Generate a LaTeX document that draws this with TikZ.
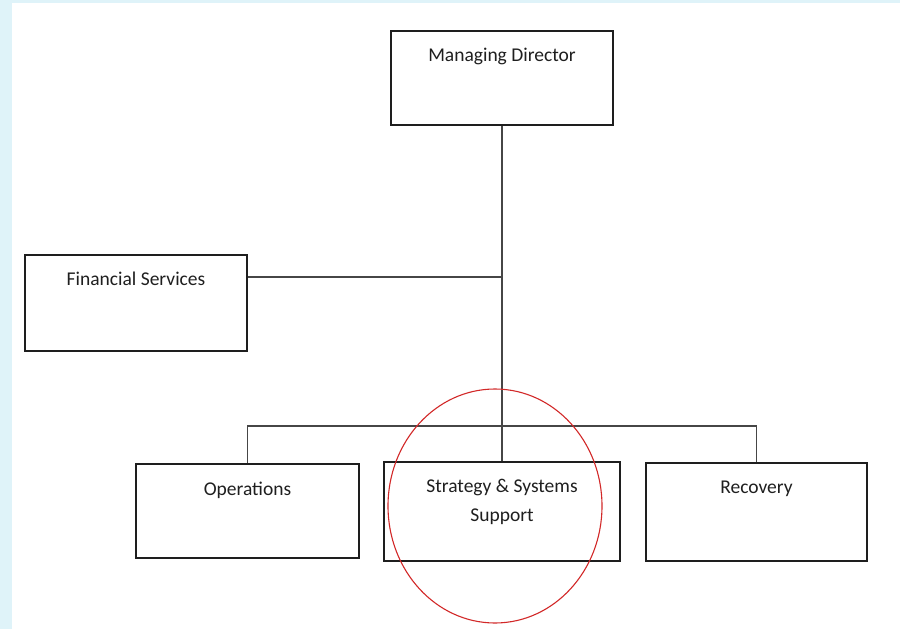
\documentclass[tikz,border=0pt]{standalone}
\usepackage{fontspec}
\setmainfont{Carlito}
\usetikzlibrary{calc}
\definecolor{bgblue}{RGB}{223,243,249}
\definecolor{boxline}{RGB}{30,30,30}
\definecolor{conn}{RGB}{70,70,70}
\definecolor{ring}{RGB}{210,40,40}
\tikzset{
  orgbox/.style={draw=boxline, line width=1.8pt, fill=white, rectangle, inner sep=0pt},
  thinbox/.style={draw=boxline, line width=1.2pt, fill=white, rectangle, inner sep=0pt},
  lbl/.style={font=\fontsize{19.5}{29}\selectfont, text=black!88, align=center, inner sep=0pt, anchor=north},
  connector/.style={draw=conn, line width=1.1pt},
}
\begin{document}
\begin{tikzpicture}[x=1pt, y=-1pt]
\fill[bgblue] (0,0) rectangle (900,629);
\fill[white] (12,3) rectangle (900,629);
\useasboundingbox (0,0) rectangle (900,629);

% boxes
\node[orgbox, minimum width=222pt, minimum height=94pt] (md) at (502,78) {};
\node[orgbox, minimum width=222pt, minimum height=96pt] (fs) at (136,303) {};
\node[orgbox, minimum width=223pt, minimum height=94pt] (ops) at (247.5,511) {};
\node[thinbox, minimum width=236pt, minimum height=99pt] (sss) at (502,511.5) {};
\node[orgbox, minimum width=221pt, minimum height=98pt] (rec) at (756.5,512) {};

% labels
\node[lbl] (mdt) at ($(md.north)+(0,18)$) {Managing Director};
\node[lbl] (fst) at ($(fs.north)+(0,18)$) {Financial Services};
\node[lbl] (opst) at ($(ops.north)+(0,19)$) {Operations};
\node[lbl] (ssst) at ($(sss.north)+(0,18)$) {Strategy \& Systems\\Support};
\node[lbl] (rect) at ($(rec.north)+(0,19)$) {Recovery};

% connectors
\coordinate (fsj) at (502,277);
\coordinate (bus) at (502,426);
\draw[connector] (md.south) -- (sss.north);
\draw[connector] (fs.east |- fsj) -- (fsj);
\draw[connector] (ops.north) |- (bus) -| (rec.north);

% red ring
\draw[ring, line width=1.1pt] (495,506) ellipse [x radius=107pt, y radius=117pt];
\end{tikzpicture}
\end{document}
